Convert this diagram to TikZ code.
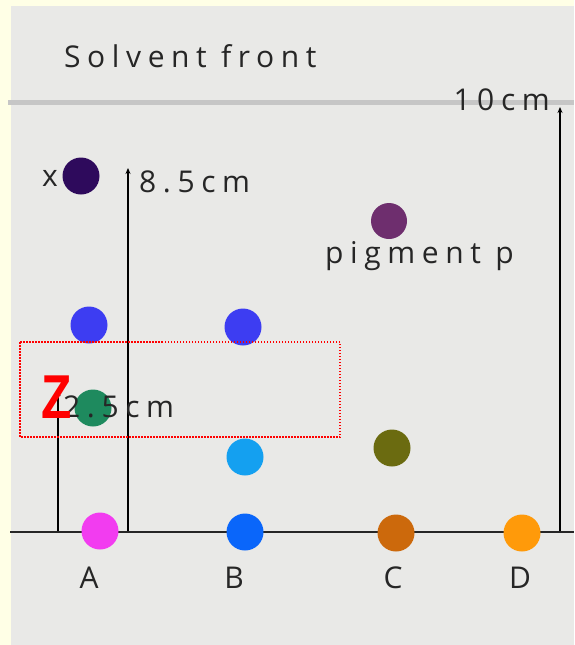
\documentclass[tikz,border=0pt]{standalone}
\usepackage{fontspec}
\setmainfont{Open Sans}
\newfontfamily\hand[LetterSpace=22]{Open Sans}
\newfontfamily\zfont{Liberation Sans}
\usetikzlibrary{arrows.meta}
\definecolor{bgyellow}{HTML}{FFFFE6}
\definecolor{paper}{HTML}{E9E9E7}
\definecolor{frontgray}{HTML}{C6C6C6}
\definecolor{cX}{HTML}{2E0A5C}
\definecolor{cP}{HTML}{6E2E6E}
\definecolor{cBlue}{HTML}{3D3DF2}
\definecolor{cGreen}{HTML}{1E8A5E}
\definecolor{cLight}{HTML}{14A0F0}
\definecolor{cOlive}{HTML}{6B6B10}
\definecolor{cA}{HTML}{F23CF0}
\definecolor{cB}{HTML}{0A66FA}
\definecolor{cC}{HTML}{CC690C}
\definecolor{cD}{HTML}{FF9A0A}
\tikzset{
  spot/.style={circle, inner sep=0pt, minimum size=#1},
  spot/.default=37pt,
  lbl/.style={font=\hand\fontsize{30}{33}\selectfont, text=black!85, inner sep=0pt},
  rise/.style={line width=1.8pt, -{Stealth[length=6pt,width=5pt]}}
}
\begin{document}
\begin{tikzpicture}[x=1pt,y=-1pt]
\useasboundingbox (0,0) rectangle (574,645);
\fill[bgyellow] (0,0) rectangle (574,645);
\fill[paper] (11,6) rectangle (574,645);
% solvent front
\coordinate (sfL) at (8,102);
\coordinate (sfR) at (574,102);
\draw[frontgray, line width=5pt] (sfL) -- (sfR);
\node[lbl, anchor=west] (sf) at (64,56) {Solvent front};
% baseline
\coordinate (blL) at (10,532);
\coordinate (blR) at (574,532);
\draw[black!85, line width=1.8pt] (blL) -- (blR);
% arrows
\coordinate (a10s) at (560,531);
\coordinate (a10e) at (560,107);
\draw[rise] (a10s) -- (a10e);
\node[lbl, anchor=base east] (t10) at (550,110) {10cm};
\coordinate (a85s) at (128,531);
\coordinate (a85e) at (128,168);
\draw[rise] (a85s) -- (a85e);
\node[lbl, anchor=west] (t85) at (139,182) {8.5cm};
\coordinate (a25s) at (58,531);
\coordinate (a25e) at (58,390);
\draw[rise] (a25s) -- (a25e);
% spots
\node[spot, fill=cX] (x) at (81,176) {};
\node[lbl, anchor=east] (tx) at (58,178) {x};
\node[spot=36pt, fill=cP] (p) at (389,221) {};
\node[lbl, anchor=west] (tp) at (325,256) {pigment p};
\node[spot, fill=cBlue] (b1) at (89,325) {};
\node[spot, fill=cBlue] (b2) at (243,327) {};
\node[spot, fill=cGreen] (g) at (93,408) {};
\node[lbl, anchor=west] (t25) at (63,407) {2.5cm};
\node[spot, fill=cLight] (lb) at (245,457) {};
\node[spot, fill=cOlive] (ol) at (392,448) {};
\node[spot, fill=cA] (A) at (100,531) {};
\node[spot, fill=cB] (B) at (245,532) {};
\node[spot, fill=cC] (C) at (396,533) {};
\node[spot, fill=cD] (D) at (522,533) {};
\node[lbl] (tA) at (89,578) {A};
\node[lbl] (tB) at (234,578) {B};
\node[lbl] (tC) at (393,578) {C};
\node[lbl] (tD) at (520,578) {D};
% red dotted box
\draw[red, line width=1.3pt, dash pattern=on 1.5pt off 1.5pt] (20,342) rectangle (340,437);
\node[text=red, font=\zfont\bfseries\fontsize{62}{62}\selectfont, inner sep=0pt, xscale=0.8] (Z) at (57,397) {Z};
\end{tikzpicture}
\end{document}
